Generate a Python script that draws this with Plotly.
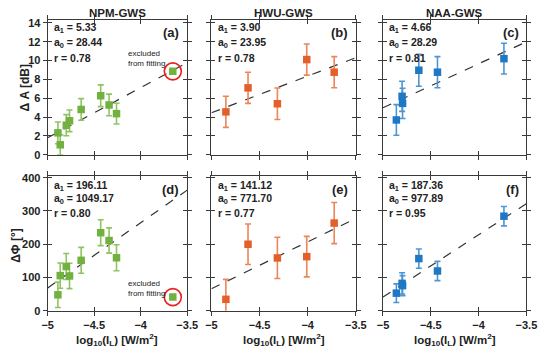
import plotly.graph_objects as go

# ---------------- data ----------------
stations = ["NPM-GWS", "HWU-GWS", "NAA-GWS"]
x_range = [-5, -3.5]
x_ticks = [-5, -4.5, -4, -3.5]
dA_ticks = [0, 2, 4, 6, 8, 10, 12, 14]
dPhi_ticks = [0, 100, 200, 300, 400]

# NPM-GWS
npm_logI = [-4.89, -4.865, -4.80, -4.765, -4.64, -4.43, -4.34, -4.26]
npm_dA = [2.32, 1.05, 3.13, 3.60, 4.80, 6.26, 5.28, 4.36]
npm_dA_err = [1.15, 1.05, 1.12, 1.15, 1.15, 1.15, 1.15, 1.10]
npm_dPhi = [47.9, 105.6, 133.0, 104.6, 151.6, 234.7, 211.2, 159.4]
npm_dPhi_err = [38, 38, 39, 38, 39, 39, 38, 39]
npm_excl_logI = [-3.655]
npm_excl_dA = [8.85]
npm_excl_dPhi = [41.0]

# HWU-GWS
hwu_logI = [-4.85, -4.62, -4.315, -4.01, -3.725]
hwu_dA = [4.55, 7.10, 5.41, 10.10, 8.76]
hwu_dA_err = [1.65, 1.65, 1.67, 1.65, 1.65]
hwu_dPhi = [34.3, 200.0, 158.8, 162.7, 263.7]
hwu_dPhi_err = [60, 61, 62, 61, 62]

# NAA-GWS
naa_logI = [-4.86, -4.80, -4.795, -4.625, -4.43, -3.735]
naa_dA = [3.69, 6.20, 5.45, 8.97, 8.76, 10.20]
naa_dA_err = [1.63, 1.60, 1.60, 1.70, 1.65, 1.63]
naa_dPhi = [52.9, 82.4, 75.5, 156.9, 119.6, 284.3]
naa_dPhi_err = [28, 32, 30, 29, 29, 29]

# fit parameters (a1, a0, r) for panels a..f
fit_a1 = [5.33, 3.90, 4.66, 196.11, 141.12, 187.36]
fit_a0 = [28.44, 23.95, 28.29, 1049.17, 771.70, 977.89]
fit_r = [0.78, 0.78, 0.81, 0.80, 0.77, 0.95]
panel_labels = ["(a)", "(b)", "(c)", "(d)", "(e)", "(f)"]

# ---------------- style ----------------
colors = ["#72b13f", "#e4602a", "#1f78c4"]
bar_colors = ["#8fc463", "#ec8558", "#4f95d2"]
frame = "#3a3a3a"
FONT = "Liberation Sans, Arial, sans-serif"

W, H = 550, 360
col_px = [(43, 187), (212, 361), (389, 537)]
row_px = [(16.5, 155), (177, 315.5)]

panels = [
    (npm_logI, npm_dA, npm_dA_err), (hwu_logI, hwu_dA, hwu_dA_err), (naa_logI, naa_dA, naa_dA_err),
    (npm_logI, npm_dPhi, npm_dPhi_err), (hwu_logI, hwu_dPhi, hwu_dPhi_err), (naa_logI, naa_dPhi, naa_dPhi_err),
]

fig = go.Figure()
layout = dict(width=W, height=H, margin=dict(l=0, r=0, t=0, b=0),
              paper_bgcolor="white", plot_bgcolor="white", showlegend=False,
              font=dict(family=FONT, color="#222"))
annotations = []

def ax(n, kind):
    return kind if n == 1 else f"{kind}{n}"

for p in range(6):
    row, col = divmod(p, 3)
    i = p + 1
    j = p + 7
    x0, x1 = col_px[col]
    y0, y1 = row_px[row]
    xdom = [x0 / W, x1 / W]
    ydom = [1 - y1 / H, 1 - y0 / H]
    yr = [0, 14.3] if row == 0 else [0, 405]
    yt = dA_ticks if row == 0 else dPhi_ticks
    tickfont = dict(family=FONT, size=11, color="#222", weight="bold")

    layout["xaxis" + ("" if i == 1 else str(i))] = dict(
        domain=xdom, range=x_range, anchor=ax(i, "y"), tickvals=x_ticks,
        ticktext=[f"{v:g}".replace("-", "\u2212") for v in x_ticks],
        ticks="outside", ticklen=4, tickcolor=frame, mirror="ticks", tickangle=0,
        showline=True, linecolor=frame, linewidth=1, showgrid=False, zeroline=False,
        showticklabels=(row == 1), tickfont=tickfont)
    layout["yaxis" + ("" if i == 1 else str(i))] = dict(
        domain=ydom, range=yr, anchor=ax(i, "x"), tickvals=yt,
        ticks="outside", ticklen=4, tickcolor=frame, mirror="ticks",
        showline=True, linecolor=frame, linewidth=1, showgrid=False, zeroline=False,
        showticklabels=(col == 0), tickfont=tickfont)
    # overlay axes for inward ticks (cross ticks)
    layout[f"xaxis{j}"] = dict(
        overlaying=ax(i, "x"), anchor=f"y{j}", range=x_range, tickvals=x_ticks,
        ticks="inside", ticklen=4, tickcolor=frame, mirror="ticks",
        showline=False, showgrid=False, zeroline=False, showticklabels=False)
    layout[f"yaxis{j}"] = dict(
        overlaying=ax(i, "y"), anchor=f"x{j}", range=yr, tickvals=yt,
        ticks="inside", ticklen=4, tickcolor=frame, mirror="ticks",
        showline=False, showgrid=False, zeroline=False, showticklabels=False)
    fig.add_trace(go.Scatter(x=[None], y=[None], xaxis=f"x{j}", yaxis=f"y{j}",
                             showlegend=False, hoverinfo="skip"))

    xs, ys, es = panels[p]
    # fit line
    fx = x_range
    fy = [fit_a1[p] * v + fit_a0[p] for v in fx]
    fig.add_trace(go.Scatter(x=fx, y=fy, mode="lines", xaxis=ax(i, "x"), yaxis=ax(i, "y"),
                             line=dict(color="#333", width=1.2, dash="dash"), hoverinfo="skip"))
    # data with error bars
    fig.add_trace(go.Scatter(
        x=xs, y=ys, mode="markers", xaxis=ax(i, "x"), yaxis=ax(i, "y"),
        marker=dict(symbol="square", size=7.5, color=colors[col]),
        error_y=dict(type="data", array=es, visible=True, color=bar_colors[col],
                     thickness=1.6, width=3),
        cliponaxis=False))

    # excluded point (NPM only)
    if col == 0:
        ey = npm_excl_dA if row == 0 else npm_excl_dPhi
        fig.add_trace(go.Scatter(x=npm_excl_logI, y=ey, mode="markers",
                                 xaxis=ax(i, "x"), yaxis=ax(i, "y"),
                                 marker=dict(symbol="square", size=7.5, color=colors[0])))
        fig.add_trace(go.Scatter(x=npm_excl_logI, y=ey, mode="markers",
                                 xaxis=ax(i, "x"), yaxis=ax(i, "y"),
                                 marker=dict(symbol="circle-open", size=17,
                                             color="#e8201e", line=dict(width=1.6, color="#e8201e")),
                                 cliponaxis=False))
        ty = 0.715 if row == 0 else 0.163
        annotations.append(dict(
            xref=ax(i, "x") + " domain", yref=ax(i, "y") + " domain", x=0.56, y=ty,
            xanchor="left", yanchor="middle", align="left", showarrow=False,
            text="excluded<br>from fitting",
            font=dict(family=FONT, size=8, color="#222")))

    # coefficient text
    h = y1 - y0
    if row == 0:
        offs = [8.5, 24, 39.5]
        lab_off = 13
    else:
        offs = [9.7, 24, 37.5]
        lab_off = 14
    texts = [f"a<sub>1</sub> = {fit_a1[p]:.2f}", f"a<sub>0</sub> = {fit_a0[p]:.2f}",
             f"r = {fit_r[p]:.2f}"]
    for t, o in zip(texts, offs):
        annotations.append(dict(
            xref=ax(i, "x") + " domain", yref=ax(i, "y") + " domain",
            x=4.5 / (x1 - x0), y=1 - o / h, xanchor="left", yanchor="middle",
            showarrow=False, text=t,
            font=dict(family=FONT, size=10.5, color="#222", weight="bold")))
    annotations.append(dict(
        xref=ax(i, "x") + " domain", yref=ax(i, "y") + " domain",
        x=1 - 6 / (x1 - x0), y=1 - lab_off / h, xanchor="right", yanchor="middle",
        showarrow=False, text=panel_labels[p],
        font=dict(family=FONT, size=13, color="#222", weight="bold")))

# column titles and x-axis titles
for c in range(3):
    x0, x1 = col_px[c]
    annotations.append(dict(xref="paper", yref="paper", x=(x0 + x1) / 2 / W, y=1 - 1 / H,
                            xanchor="center", yanchor="top", showarrow=False,
                            text=stations[c],
                            font=dict(family=FONT, size=11.5, color="#222", weight="bold")))
    annotations.append(dict(xref="paper", yref="paper", x=(x0 + x1) / 2 / W, y=1 - 346 / H,
                            xanchor="center", yanchor="middle", showarrow=False,
                            text="log<sub>10</sub>(I<sub>L</sub>) [W/m<sup>2</sup>]",
                            font=dict(family=FONT, size=11.5, color="#222", weight="bold")))

# y-axis titles
annotations.append(dict(xref="paper", yref="paper", x=19.5 / W, y=1 - 86 / H,
                        xanchor="center", yanchor="middle", showarrow=False, textangle=-90,
                        text="Δ A [dB]",
                        font=dict(family=FONT, size=12, color="#222", weight="bold")))
annotations.append(dict(xref="paper", yref="paper", x=10 / W, y=1 - 248 / H,
                        xanchor="center", yanchor="middle", showarrow=False, textangle=-90,
                        text="ΔΦ [°]",
                        font=dict(family=FONT, size=12, color="#222", weight="bold")))

layout["annotations"] = annotations
fig.update_layout(**layout)
fig.write_html("out.html", config={"displayModeBar": False},
               post_script="document.body.style.margin='0';document.body.style.overflow='hidden';")
